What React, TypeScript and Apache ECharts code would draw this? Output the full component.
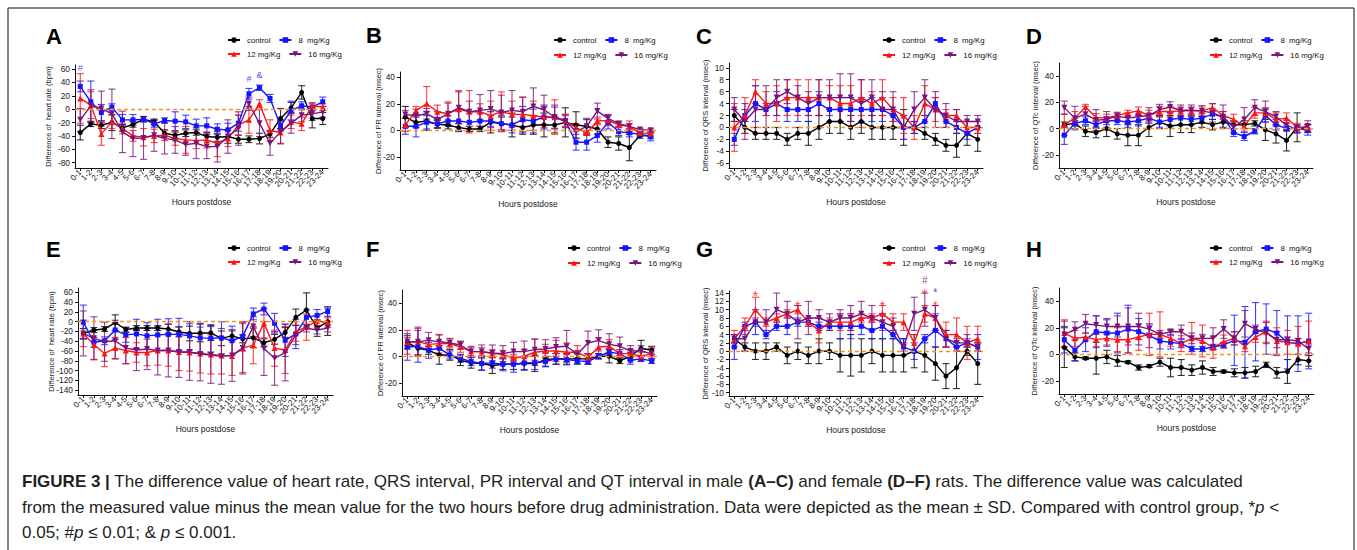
import React, { useEffect, useRef } from "react";
import * as echarts from "echarts";

const FONT = '"Liberation Sans", Arial, sans-serif';
const CAPTION_FONT = '"Liberation Sans", Arial, sans-serif';

const hours = [
  "0-1", "1-2", "2-3", "3-4", "4-5", "5-6", "6-7", "7-8", "8-9", "9-10", "10-11", "11-12",
  "12-13", "13-14", "14-15", "15-16", "16-17", "17-18", "18-19", "19-20", "20-21", "21-22", "22-23", "23-24",
];
const groups = ["control", "8  mg/Kg", "12 mg/Kg", "16 mg/Kg"];
const groupColors = ["#000000", "#1414ff", "#ff1414", "#7a137a"];
const groupSymbols = ["circle", "rect", "triangle", "path://M0,0L10,0L5,9Z"];
const groupSymbolSizes = [5, 5, 6, 6];

// A: heart rate, male
const aCtrl = [-35, -22, -24, -20, -28, -23, -15, -19, -36, -39, -36, -35, -41, -42, -41, -45, -45, -44, -37, -14, 2, 25, -14, -14];
const aCtrlSd = [11, 4, 5, 12, 5, 4, 4, 4, 5, 5, 5, 4, 6, 6, 10, 6, 5, 8, 5, 15, 8, 10, 14, 9];
const aLow = [34, 11, -5, 3, -16, -16, -15, -22, -17, -18, -19, -25, -25, -30, -31, -21, 23, 32, 16, -25, -2, 5, 3, 11];
const aLowSd = [8, 31, 12, 5, 8, 8, 4, 5, 4, 14, 10, 10, 12, 8, 10, 12, 8, 4, 6, 8, 14, 6, 5, 7];
const aMid = [16, 6, -37, -19, -29, -40, -42, -40, -39, -44, -46, -47, -46, -51, -44, -24, -16, 8, -32, -35, -19, -22, 5, 3];
const aMidSd = [37, 20, 17, 10, 8, 8, 13, 10, 8, 10, 20, 12, 12, 20, 12, 15, 20, 6, 16, 16, 10, 10, 5, 5];
const aHigh = [-16, 5, 1, -7, -34, -44, -43, -39, -44, -46, -53, -51, -56, -56, -41, -29, 8, -21, -51, -34, -21, -9, -7, -4];
const aHighSd = [17, 24, 26, 37, 31, 27, 32, 24, 23, 20, 16, 23, 18, 23, 25, 25, 10, 20, 18, 18, 15, 10, 10, 8];

// B: PR interval, male
const bCtrl = [10, 6, 7, 4.5, 4, 2, 1, 1, 6, 5, 4, 2, 4, 4, 4, 6, 4, 3, 1, -9, -10, -13, -4, -4];
const bCtrlSd = [8, 4, 7, 3, 3, 3, 2, 2, 8, 5, 9, 5, 7, 9, 6, 11, 10, 5, 4, 4, 5, 10, 2, 2];
const bLow = [3, 3, 6, 5, 7, 7, 6, 7, 7, 5, 4, 8, 7, 10, 9.5, 7, -9, -9, -4, 6, -1, -2, -3, -5];
const bLowSd = [6, 8, 5, 3, 4, 7, 7, 6, 4, 6, 6, 10, 9, 9, 8, 5, 6, 6, 5, 5, 3, 3, 2, 3];
const bMid = [4, 15, 20, 14, 12.5, 16, 14, 14, 11, 14, 12, 12, 11, 10, 10, 7, 2, -2, 7, 7.5, 4, 3, -2, -2.5];
const bMidSd = [5, 3, 13, 5, 9, 14, 16, 6, 11, 15, 10, 13, 11, 8, 13, 5, 3, 2, 3, 4, 2, 4, 2, 2];
const bHigh = [12, 11, 12.5, 8, 12.5, 17, 14, 15, 16, 13.5, 15, 14, 18, 15.5, 10, 7, -1, 3, 14.5, 9, 5, 3, 0.5, 0];
const bHighSd = [3, 5, 4, 6, 8, 12, 8, 12, 14, 13, 15, 11, 14, 11, 9, 4, 5, 6, 6, 3, 2, 2, 1, 1];

// C: QRS interval, male
const cCtrl = [2, 0, -1, -1, -1, -2, -1, -1, 0, 1, 1, 0, 1, 0, 0, 0, 0, 0, -1, -2, -3, -3, -1, -2];
const cCtrlSd = [1, 1, 1, 1, 1, 1, 1, 2, 2, 2, 2, 2, 2, 2, 2, 2, 3, 1, 1, 1, 1, 2, 2, 2];
const cLow = [-2, 2, 4, 3, 4, 3, 3, 3, 4, 3, 3, 3, 3, 3, 3, 2, 0, 0, 1, 4, 1, 0, -1, 0];
const cLowSd = [1, 1, 3, 1, 2, 2, 2, 2, 2, 2, 2, 2, 2, 2, 2, 1, 2, 1, 1, 1, 1, 1, 1, 1];
const cMid = [0, 2, 6, 4, 4, 5, 5, 5, 5, 5, 4, 4, 5, 4, 5, 3, 2, 0, 4, 3, 2, 2, 0, 0];
const cMidSd = [4, 3, 2, 2, 3, 3, 3, 3, 3, 2, 3, 3, 3, 2, 3, 2, 3, 2, 3, 2, 1, 1, 1, 1];
const cHigh = [3, 1, 3, 3, 5, 6, 5, 4, 5, 5, 5, 5, 4, 5, 3, 3, 0, 3, 5, 3, 2, 1, 1, 1];
const cHighSd = [2, 3, 4, 4, 3, 2, 2, 2, 3, 3, 4, 4, 4, 3, 3, 3, 2, 3, 3, 3, 2, 2, 1, 1];

// D: QTc interval, male
const dCtrl = [3, 4, -2, -3, 0, -4, -5, -5, 1, 5, 2, 3, 3, 5, 3, 5, 3, 3, 4, -1, -4, -9, 1, 0];
const dCtrlSd = [2, 2, 4, 4, 6, 4, 8, 8, 7, 5, 8, 6, 6, 4, 4, 4, 3, 3, 2, 8, 7, 8, 11, 3];
const dLow = [-5, 4, 6, 3, 6, 6, 5, 6, 8, 5, 7, 8, 7, 8, 11, 9, -3, -6, -2, 10, 3, 0, 0, -1];
const dLowSd = [7, 4, 3, 3, 3, 3, 4, 4, 3, 4, 5, 5, 4, 4, 4, 4, 3, 3, 2, 5, 4, 2, 3, 4];
const dMid = [3, 8, 16.5, 8.5, 8, 10, 12, 13.5, 10, 13, 13, 13.5, 13.5, 13.5, 16, 10, 7, 2, 12, 12, 7, 8, 1, 1];
const dMidSd = [8, 5, 2, 3, 3, 2, 2, 3, 4, 4, 4, 3, 3, 3, 3, 3, 4, 2, 4, 4, 5, 4, 3, 2];
const dHigh = [16, 8, 11, 6.5, 7, 9.5, 8, 9, 10, 14.5, 16.5, 14, 14, 13.5, 12, 9, 1, 7, 16, 13, 9, 2.5, -0.5, 2];
const dHighSd = [5, 9, 6, 8, 6, 3, 4, 4, 6, 4, 4, 4, 4, 4, 7, 9, 4, 9, 6, 8, 4, 4, 3, 4];

// E: heart rate, female
const eCtrl = [-24, -17, -15, -2, -16, -13, -13, -13, -15, -21, -24, -23, -23, -34, -29, -35, -33, -43, -36, -22, 9, 24, -13, 0];
const eCtrlSd = [10, 5, 5, 16, 5, 5, 5, 5, 10, 10, 15, 18, 15, 15, 10, 8, 20, 8, 10, 10, 17, 35, 17, 28];
const eLow = [-1, -42, -39, -17, -27, -25, -29, -27, -26, -26, -29, -33, -34, -33, -39, -30, 16, 26, -3, -38, -25, 9, 13, 21];
const eLowSd = [35, 10, 8, 20, 15, 30, 27, 32, 32, 33, 29, 30, 28, 33, 30, 30, 12, 12, 20, 33, 30, 15, 12, 10];
const eMid = [-24, -47, -65, -54, -59, -63, -63, -59, -59, -62, -63, -65, -67, -69, -70, -54, -48, -3, -54, -58, -20, -11, 2, -2];
const eMidSd = [27, 30, 27, 22, 27, 20, 27, 30, 32, 38, 38, 40, 40, 38, 40, 50, 38, 30, 37, 48, 20, 27, 10, 10];
const eHigh = [-24, -34, -41, -39, -54, -58, -56, -59, -59, -62, -62, -66, -68, -71, -69, -54, -10, -55, -75, -63, -27, -13, -17, -13];
const eHighSd = [46, 44, 40, 37, 32, 42, 42, 50, 54, 52, 58, 55, 58, 57, 53, 53, 20, 55, 55, 58, 20, 8, 8, 8];

// F: PR interval, female
const fCtrl = [10.5, 6, 4.5, 1, 1, -3, -5, -5.5, -7, -6, -6, -5.5, -5.5, -2.5, -2, -2, -2, -2, 0, 0, -3.5, 0, 6, 4.5];
const fCtrlSd = [5, 5, 3, 7, 4, 4, 4, 5, 6, 4, 4, 5, 6, 5, 4, 4, 4, 4, 2, 5, 2, 3, 6, 3];
const fLow = [7, 7.5, 4.5, 6, 1, -1.5, -4, -5.5, -5, -6, -6, -5, -5, -4, -2, -2.5, -3.5, -4, 0, 3, 2, -3, -2, -3.5];
const fLowSd = [10, 12, 6, 5, 3, 3, 3, 5, 4, 5, 6, 5, 5, 4, 4, 4, 2, 2, 2, 3, 3, 3, 2, 2];
const fMid = [10.5, 11, 9, 9.5, 9.5, 7, 3.5, 3.5, 2, 1.5, -1.5, 0, 3, 4, 4, 3, 3, -1, 7, 7.5, 2, 2, 0, 2];
const fMidSd = [9, 10, 3, 7, 4, 4, 3, 3, 3, 3, 3, 5, 10, 5, 8, 7, 5, 3, 7, 5, 3, 3, 3, 5];
const fHigh = [11, 11, 12, 11, 10, 8.5, 3.5, 3.5, 2.5, 2, 3.5, 3.5, 5, 5.5, 7, 7.5, 1.5, 10, 12, 9, 7.5, 4, 4, 2];
const fHighSd = [3, 11, 6, 5, 3, 3, 4, 5, 6, 6, 7, 8, 8, 7, 7, 12, 3, 9, 8, 8, 7, 4, 4, 4];

// G: QRS interval, female
const gCtrl = [3, 1, 0, 0, 1, -1, 0, -1, 0, 0, -1, -1, -1, 0, -1, -1, -1, 0, -1, -3, -6, -4, 0, -3];
const gCtrlSd = [1, 1, 2, 2, 1, 2, 2, 2, 3, 2, 4, 5, 4, 3, 4, 4, 4, 4, 4, 4, 3, 5, 1, 5];
const gLow = [1, 6, 7, 4, 6, 6, 7, 7, 6, 6, 6, 6, 6, 5, 6, 4, 1, 0, 3, 5, 3, 1, 2, 1];
const gLowSd = [3, 1, 3, 1, 1, 2, 1, 1, 1, 1, 3, 3, 2, 2, 3, 1, 2, 2, 1, 4, 2, 1, 1, 3];
const gMid = [3, 6, 10, 7, 8, 9, 10, 7, 5, 7, 7, 7, 8, 8, 9, 7, 7, 2, 9, 8, 4, 4, 2, 3];
const gMidSd = [2, 2, 3, 1, 1, 1, 1, 1, 3, 1, 2, 2, 1, 1, 2, 2, 2, 2, 2, 3, 3, 4, 4, 3];
const gHigh = [3, 3, 7, 7, 10, 9, 7, 8, 8, 7, 8, 8, 9, 8, 7, 6, 1, 9, 10, 8, 3, 2, 2, 1];
const gHighSd = [1, 3, 1, 3, 4, 3, 4, 4, 2, 2, 2, 3, 3, 3, 2, 2, 1, 4, 4, 3, 2, 1, 2, 1];

// H: QTc interval, female
const hCtrl = [5, -2, -3, -3, -2, -5, -6, -10, -9, -6, -10, -10, -12, -10, -13, -13, -14, -14, -13, -8, -14, -13, -4, -5];
const hCtrlSd = [15, 3, 1, 12, 5, 4, 1, 2, 1, 3, 7, 6, 4, 5, 3, 1, 3, 4, 4, 2, 4, 9, 4, 4];
const hLow = [11, 3, 11, 17, 16, 16, 19, 17, 14, 10, 9, 8, 4, 4, 5.5, 7, 10.5, 9, 17, 19, 16, 9, 8, 10];
const hLowSd = [10, 8, 9, 12, 10, 15, 18, 10, 9, 6, 5, 3, 2, 2, 2, 2, 19, 27, 22, 19, 17, 20, 21, 21];
const hMid = [16, 12, 13, 11, 12, 11, 11, 13, 15, 15, 12, 8, 12, 10, 5, 9.5, 12, 6, 13, 17, 10, 9, 8, 10];
const hMidSd = [10, 6, 3, 5, 5, 9, 10, 10, 16, 17, 6, 6, 12, 12, 8, 5, 5, 4, 4, 8, 10, 9, 13, 15];
const hHigh = [15, 18.5, 23, 22, 21, 21, 21, 21, 19, 15, 17, 17, 12, 12, 12, 19, 12, 23, 19, 16, 11, 11, 10, 4];
const hHighSd = [10, 6, 7, 7, 6, 8, 14, 10, 3, 3, 2, 5, 4, 3, 8, 7, 5, 10, 3, 8, 6, 2, 2, 3];

// significance marks (rich-text tokens: b = blue, r = red, p = purple)
const aSigCats = [0, 16, 17];
const aSigValues = [62, 44.6, 51];
const aSigMarks = ["{b|#}", "{b|#}", "{b|&}"];
const gSigCats = [2, 6, 14, 18, 19];
const gSigValues = [13.5, 11.1, 11.1, 15.5, 12.35];
const gSigMarks = ["{r|*}", "{r|*}", "{r|*}", "{ph|#}\n{r|*}", "{ps|*}\n{r2|*}"];

// tick labels
const hrMaleTicks = [-80, -60, -40, -20, 0, 20, 40, 60];
const hrFemaleTicks = [-140, -120, -100, -80, -60, -40, -20, 0, 20, 40, 60];
const msecTicks = [-20, 0, 20, 40];
const qrsMaleTicks = [-6, -4, -2, 0, 2, 4, 6, 8, 10];
const qrsFemaleTicks = [-10, -8, -6, -4, -2, 0, 2, 4, 6, 8, 10, 12, 14];

const yNameHr = "Difference of  heart rate (bpm)";
const yNamePr = "Difference of PR interval (msec)";
const yNameQrs = "Difference of QRS interval (msec)";
const yNameQtc = "Difference of QTc interval (msec)";

const sigRich = {
  b: { color: groupColors[1], fontSize: 9, lineHeight: 10, fontFamily: FONT },
  r: { color: groupColors[2], fontSize: 15, lineHeight: 12, fontFamily: FONT },
  r2: { color: groupColors[2], fontSize: 13, lineHeight: 14, fontFamily: FONT },
  ph: { color: groupColors[3], fontSize: 10, lineHeight: 13, fontFamily: FONT },
  ps: { color: groupColors[3], fontSize: 12, lineHeight: 12, fontFamily: FONT },
};

type Sig = { cats: number[]; values: number[]; marks: string[] };
type Panel = {
  letter: string;
  means: number[][];
  sds: number[][];
  yName: string;
  yMin: number;
  yMax: number;
  ticks: number[];
  grid: number[];
  yNameGap: number;
  legendX: number;
  legendRows: number[];
  letterPos: number[];
  sig: Sig | null;
};

const panels: Panel[] = [
  { letter: "A", means: [aCtrl, aLow, aMid, aHigh], sds: [aCtrlSd, aLowSd, aMidSd, aHighSd], yName: yNameHr, yMin: -88, yMax: 66, ticks: hrMaleTicks, grid: [75, 65, 253, 103], yNameGap: 23, legendX: 227, legendRows: [41, 55], letterPos: [46, 36],
    sig: { cats: aSigCats, values: aSigValues, marks: aSigMarks } },
  { letter: "B", means: [bCtrl, bLow, bMid, bHigh], sds: [bCtrlSd, bLowSd, bMidSd, bHighSd], yName: yNamePr, yMin: -30, yMax: 44, ticks: msecTicks, grid: [400, 72, 256, 98], yNameGap: 18, legendX: 553, legendRows: [41, 56], letterPos: [366, 35], sig: null },
  { letter: "C", means: [cCtrl, cLow, cMid, cHigh], sds: [cCtrlSd, cLowSd, cMidSd, cHighSd], yName: yNameQrs, yMin: -6.8, yMax: 10.8, ticks: qrsMaleTicks, grid: [729, 63, 254, 105], yNameGap: 20, legendX: 882, legendRows: [41, 56], letterPos: [696, 36], sig: null },
  { letter: "D", means: [dCtrl, dLow, dMid, dHigh], sds: [dCtrlSd, dLowSd, dMidSd, dHighSd], yName: yNameQtc, yMin: -30, yMax: 50, ticks: msecTicks, grid: [1059, 63, 254, 105], yNameGap: 20, legendX: 1209, legendRows: [41, 56], letterPos: [1026, 36], sig: null },
  { letter: "E", means: [eCtrl, eLow, eMid, eHigh], sds: [eCtrlSd, eLowSd, eMidSd, eHighSd], yName: yNameHr, yMin: -150, yMax: 69, ticks: hrFemaleTicks, grid: [78, 288, 255, 107], yNameGap: 23, legendX: 227, legendRows: [249, 263], letterPos: [46, 249], sig: null },
  { letter: "F", means: [fCtrl, fLow, fMid, fHigh], sds: [fCtrlSd, fLowSd, fMidSd, fHighSd], yName: yNamePr, yMin: -30, yMax: 50, ticks: msecTicks, grid: [402, 290, 255, 106], yNameGap: 18, legendX: 567, legendRows: [249, 264], letterPos: [366, 249], sig: null },
  { letter: "G", means: [gCtrl, gLow, gMid, gHigh], sds: [gCtrlSd, gLowSd, gMidSd, gHighSd], yName: yNameQrs, yMin: -10.8, yMax: 14.5, ticks: qrsFemaleTicks, grid: [729, 291, 254, 105], yNameGap: 20, legendX: 882, legendRows: [249, 264], letterPos: [696, 249],
    sig: { cats: gSigCats, values: gSigValues, marks: gSigMarks } },
  { letter: "H", means: [hCtrl, hLow, hMid, hHigh], sds: [hCtrlSd, hLowSd, hMidSd, hHighSd], yName: yNameQtc, yMin: -30, yMax: 50, ticks: msecTicks, grid: [1059, 288, 255, 106], yNameGap: 21, legendX: 1209, legendRows: [249, 263], letterPos: [1026, 249], sig: null },
];

const captionLines = [
  "{b|FIGURE 3 |} The difference value of heart rate, QRS interval, PR interval and QT interval in male {b|(A\u2013C)} and female {b|(D\u2013F)} rats. The difference value was calculated",
  "from the measured value minus the mean value for the two hours before drug administration. Data were depicted as the mean \u00b1 SD. Compared with control group, *{i|p} <",
  "0.05; #{i|p} \u2264 0.01; & {i|p} \u2264 0.001.",
];

function buildOption() {
  const grid = panels.map((p) => ({
    left: p.grid[0], top: p.grid[1], width: p.grid[2], height: p.grid[3],
    containLabel: false, outerBoundsMode: "none",
  }));
  const xAxis = panels.map((p, i) => ({
    gridIndex: i, type: "category", data: hours, boundaryGap: true,
    axisLine: { show: true, onZero: false, lineStyle: { color: "#111", width: 1 } },
    axisTick: { show: true, alignWithLabel: true, interval: 0, length: 3, lineStyle: { color: "#111" } },
    axisLabel: { show: true, interval: 0, rotate: 45, fontSize: 8.2, color: "#222", margin: 3, fontFamily: FONT },
    splitLine: { show: false },
    name: "Hours postdose", nameLocation: "middle", nameGap: 29, nameMoveOverlap: false,
    nameTextStyle: { fontSize: 8.5, color: "#222", fontFamily: FONT },
  }));
  const yAxis = panels.map((p, i) => ({
    gridIndex: i, type: "value", min: p.yMin, max: p.yMax,
    axisLine: { show: true, lineStyle: { color: "#111", width: 1 } },
    axisTick: { show: true, length: 3, customValues: p.ticks, lineStyle: { color: "#111" } },
    axisLabel: { show: true, customValues: p.ticks, fontSize: 8.4, color: "#222", margin: 5, fontFamily: FONT },
    splitLine: { show: false },
    name: p.yName, nameLocation: "middle", nameRotate: 90, nameGap: p.yNameGap, nameMoveOverlap: false,
    nameTextStyle: { fontSize: 7.5, color: "#222", fontFamily: FONT },
  }));

  const series: any[] = [];
  panels.forEach((p, i) => {
    series.push({
      type: "line", data: [], xAxisIndex: i, yAxisIndex: i, silent: true, z: 1,
      markLine: {
        silent: true, symbol: "none", label: { show: false },
        lineStyle: { color: "#f7931e", type: [4, 3], width: 1.3 },
        data: [{ yAxis: 0 }],
      },
    });
    groups.forEach((g, k) => {
      const color = groupColors[k];
      series.push({
        type: "custom", xAxisIndex: i, yAxisIndex: i, silent: true, z: 2,
        data: p.means[k].map((m, j) => [j, m - p.sds[k][j], m + p.sds[k][j]]),
        encode: { x: 0, y: [1, 2] },
        clip: false,
        renderItem: (params: any, api: any) => {
          const x = api.value(0);
          const lo = api.coord([x, api.value(1)]);
          const hi = api.coord([x, api.value(2)]);
          const w = 3.5;
          const st = { stroke: color, lineWidth: 1.1, opacity: 0.8 };
          return {
            type: "group",
            children: [
              { type: "line", shape: { x1: lo[0], y1: lo[1], x2: hi[0], y2: hi[1] }, style: st },
              { type: "line", shape: { x1: lo[0] - w, y1: lo[1], x2: lo[0] + w, y2: lo[1] }, style: st },
              { type: "line", shape: { x1: hi[0] - w, y1: hi[1], x2: hi[0] + w, y2: hi[1] }, style: st },
            ],
          };
        },
      });
    });
    groups.forEach((g, k) => {
      const color = groupColors[k];
      series.push({
        type: "line", name: g, xAxisIndex: i, yAxisIndex: i, z: 3,
        data: p.means[k],
        symbol: groupSymbols[k], symbolSize: groupSymbolSizes[k],
        lineStyle: { color, width: 1.4 },
        itemStyle: { color },
        emphasis: { disabled: true },
      });
    });
    if (p.sig) {
      const s = p.sig;
      series.push({
        type: "scatter", xAxisIndex: i, yAxisIndex: i, z: 4, silent: true, clip: false,
        symbol: "circle", symbolSize: 1,
        itemStyle: { color: "rgba(0,0,0,0)" },
        data: s.cats.map((c, j) => ({
          value: [c, s.values[j]],
          label: { formatter: s.marks[j] },
        })),
        label: { show: true, position: "inside", fontFamily: FONT, rich: sigRich },
      });
    }
  });

  const legend: any[] = [];
  panels.forEach((p) => {
    [[groups[0], groups[1]], [groups[2], groups[3]]].forEach((names, r) => {
      legend.push({
        data: names, left: p.legendX, top: p.legendRows[r] - 5, orient: "horizontal",
        itemWidth: 12, itemHeight: 7, itemGap: 8, padding: 0, selectedMode: false,
        textStyle: { fontSize: 7.8, color: "#111", fontFamily: FONT, width: 33, padding: [0, 0, 0, 2] },
      });
    });
  });

  const frameStyle = { stroke: "#5a5a5a", lineWidth: 1.5 };
  const graphic: any[] = [
    { type: "line", silent: true, shape: { x1: 8, y1: 8, x2: 1354, y2: 8 }, style: frameStyle },
    { type: "line", silent: true, shape: { x1: 8, y1: 8, x2: 8, y2: 550 }, style: frameStyle },
    { type: "line", silent: true, shape: { x1: 1354, y1: 8, x2: 1354, y2: 550 }, style: frameStyle },
  ];
  panels.forEach((p) => {
    graphic.push({
      type: "text", x: p.letterPos[0], y: p.letterPos[1], silent: true,
      style: { text: p.letter, fontSize: 22, fontWeight: "bold", fontFamily: CAPTION_FONT, fill: "#000", align: "left", verticalAlign: "middle" },
    });
  });
  const captionY = [481, 507, 532];
  captionLines.forEach((t, idx) => {
    graphic.push({
      type: "text", x: 22, y: captionY[idx], silent: true,
      style: {
        text: t, fontSize: 17, fontFamily: CAPTION_FONT, fill: "#231f20", align: "left", verticalAlign: "middle",
        rich: {
          b: { fontWeight: "bold", fontSize: 17, fontFamily: CAPTION_FONT, fill: "#231f20" },
          i: { fontStyle: "italic", fontSize: 17, fontFamily: CAPTION_FONT, fill: "#231f20" },
        },
      },
    });
  });

  return {
    animation: false,
    backgroundColor: "#ffffff",
    textStyle: { fontFamily: FONT },
    tooltip: { show: false },
    grid, xAxis, yAxis, series, legend, graphic,
  };
}

export default function App() {
  const ref = useRef<HTMLDivElement>(null);
  useEffect(() => {
    if (!ref.current) return;
    document.body.style.margin = "0";
    document.body.style.padding = "0";
    const chart = echarts.init(ref.current, undefined, { renderer: "svg" });
    chart.setOption(buildOption() as any);
    return () => chart.dispose();
  }, []);
  return (
    <div
      ref={ref}
      style={{ position: "relative", margin: 0, width: 1357, height: 550, background: "#fff" }}
    />
  );
}
